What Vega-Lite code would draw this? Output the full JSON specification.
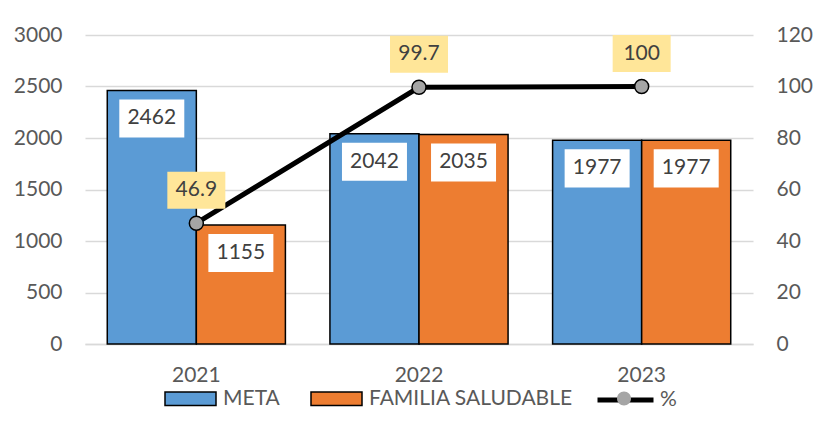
{
  "$schema": "https://vega.github.io/schema/vega-lite/v6.json",
  "width": 668,
  "height": 309,
  "autosize": {"type": "none"},
  "padding": {"left": 85, "top": 35, "right": 60, "bottom": 88},
  "background": "white",
  "datasets": {
    "barras": [
      {"anio": "2021", "serie": "META", "valor": 2462},
      {"anio": "2021", "serie": "FAMILIA SALUDABLE", "valor": 1155},
      {"anio": "2022", "serie": "META", "valor": 2042},
      {"anio": "2022", "serie": "FAMILIA SALUDABLE", "valor": 2035},
      {"anio": "2023", "serie": "META", "valor": 1977},
      {"anio": "2023", "serie": "FAMILIA SALUDABLE", "valor": 1977}
    ],
    "pct": [
      {"anio": "2021", "serie": "%", "marcador": "%", "pct": 46.9},
      {"anio": "2022", "serie": "%", "marcador": "%", "pct": 99.7},
      {"anio": "2023", "serie": "%", "marcador": "%", "pct": 100}
    ]
  },
  "config": {
    "view": {"stroke": null},
    "font": "Lato",
    "legend": {"padding": 0, "titlePadding": 0},
    "axis": {"labelFont": "Lato", "labelFontSize": 21, "labelColor": "#595959", "ticks": false, "tickSize": 0, "title": null}
  },
  "encoding": {
    "x": {
      "field": "anio", "type": "nominal",
      "scale": {"paddingInner": 0.2, "paddingOuter": 0.1},
      "axis": {"labelAngle": 0, "domainColor": "#D9D9D9", "domainWidth": 1.5, "labelPadding": 20, "title": null}
    }
  },
  "layer": [
    {
      "data": {"name": "barras"},
      "encoding": {
        "y": {
          "field": "valor", "type": "quantitative",
          "scale": {"domain": [0, 3000], "nice": false},
          "axis": {"orient": "left", "values": [0, 500, 1000, 1500, 2000, 2500, 3000], "format": "d", "domain": false, "grid": true, "gridColor": "#D9D9D9", "gridWidth": 1.5, "labelPadding": 23, "title": null}
        },
        "xOffset": {"field": "serie", "type": "nominal", "scale": {"domain": ["META", "FAMILIA SALUDABLE"], "paddingInner": 0, "paddingOuter": 0}}
      },
      "layer": [
        {
          "mark": {"type": "bar", "stroke": "black", "strokeWidth": 1.5},
          "encoding": {
            "fill": {
              "field": "serie", "type": "nominal",
              "scale": {"domain": ["META", "FAMILIA SALUDABLE"], "range": ["#5B9BD5", "#ED7D31"]},
              "legend": {
                "orient": "none", "legendX": 79, "legendY": 337, "direction": "horizontal", "title": null,
                "symbolType": "M-1,-0.26 H1 V0.26 H-1 Z", "symbolSize": 2601,
                "symbolStrokeColor": "black", "symbolStrokeWidth": 1.5, "symbolOpacity": 1,
                "labelFontSize": 21, "labelColor": "#595959", "labelFont": "Lato", "labelOffset": 6,
                "columnPadding": 28, "labelLimit": 400
              }
            }
          }
        },
        {
          "mark": {"type": "point", "shape": "M-1,-0.585 H1 V0.585 H-1 Z", "size": 4225, "filled": true, "fill": "white", "opacity": 1, "strokeWidth": 0, "yOffset": 28}
        },
        {
          "mark": {"type": "text", "yOffset": 28, "fontSize": 21, "font": "Lato", "color": "#404040", "baseline": "middle"},
          "encoding": {"text": {"field": "valor", "type": "nominal"}}
        }
      ]
    },
    {
      "data": {"name": "pct"},
      "encoding": {
        "y": {
          "field": "pct", "type": "quantitative",
          "scale": {"domain": [0, 120], "nice": false},
          "axis": {"orient": "right", "values": [0, 20, 40, 60, 80, 100, 120], "format": "d", "domain": false, "grid": false, "labelPadding": 23, "title": null}
        }
      },
      "layer": [
        {
          "mark": {"type": "line", "strokeWidth": 5},
          "encoding": {
            "stroke": {
              "field": "serie", "type": "nominal",
              "scale": {"range": ["black"]},
              "legend": {
                "orient": "none", "legendX": 510, "legendY": 334.5, "title": null,
                "symbolType": "stroke", "symbolSize": 3136, "symbolStrokeWidth": 5,
                "labelFontSize": 21, "labelColor": "#595959", "labelFont": "Lato", "labelOffset": 4
              }
            }
          }
        },
        {
          "mark": {"type": "point", "filled": true, "fill": "#A5A5A5", "stroke": "black", "strokeWidth": 1.5, "opacity": 1, "size": 3136},
          "encoding": {
            "shape": {
              "field": "marcador", "type": "nominal",
              "scale": {"range": ["M0.25,0 A0.25,0.25 0 1,1 -0.25,0 A0.25,0.25 0 1,1 0.25,0 Z"]},
              "legend": {
                "orient": "none", "legendX": 510, "legendY": 334.5, "title": null, "zindex": 2,
                "symbolSize": 3136, "symbolFillColor": "#A5A5A5", "symbolStrokeColor": "black", "symbolStrokeWidth": 1.5, "symbolOpacity": 1,
                "labelExpr": "''", "labelFontSize": 21, "labelOffset": 4
              }
            }
          }
        },
        {
          "mark": {"type": "point", "shape": "M-1,-0.638 H1 V0.638 H-1 Z", "size": 3364, "filled": true, "fill": "#FFE699", "opacity": 1, "strokeWidth": 0, "yOffset": -33}
        },
        {
          "mark": {"type": "text", "yOffset": -33, "fontSize": 21, "font": "Lato", "color": "#404040", "baseline": "middle"},
          "encoding": {"text": {"field": "pct", "type": "nominal"}}
        }
      ]
    }
  ],
  "resolve": {"scale": {"y": "independent"}}
}
